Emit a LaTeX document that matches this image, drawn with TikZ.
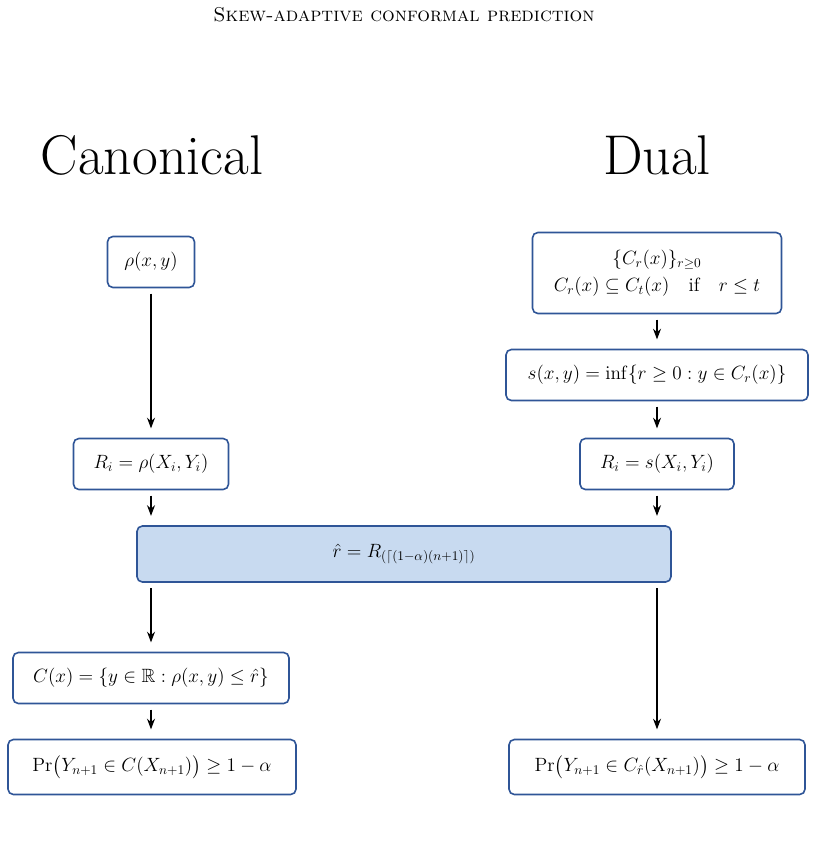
\documentclass[tikz,border=0pt]{standalone}
\usepackage{amsmath,amssymb}
\usetikzlibrary{arrows.meta}
\definecolor{bord}{RGB}{47,85,151}
\definecolor{fillb}{RGB}{200,218,240}
\begin{document}
\begin{tikzpicture}[x=0.75pt,y=-0.75pt,
 box/.style={draw=bord,line width=1.2pt,rounded corners=4pt,fill=white,align=center,inner sep=0pt,font=\fontsize{14.4}{17}\selectfont},
 arr/.style={-{Stealth[length=8pt,width=6pt]},line width=0.8pt,shorten >=7pt,shorten <=4pt},
 ttl/.style={font=\fontsize{42}{46}\selectfont}]
\useasboundingbox (0,0) rectangle (816,856);
\node[font=\fontsize{15}{18}\selectfont] (hdr) at (404,15) {\textsc{Skew-adaptive conformal prediction}};
\node[ttl] (tc) at (152,155) {Canonical};
\node[ttl] (td) at (657,155) {Dual};
\node[box,minimum width=87*0.75pt,minimum height=51*0.75pt] (rho) at (151,262) {$\rho(x,y)$};
\node[box,minimum width=249*0.75pt,minimum height=81*0.75pt] (cr) at (657,273) {$\{C_r(x)\}_{r\ge0}$\\[3pt]$C_r(x)\subseteq C_t(x)\quad\text{if}\quad r\le t$};
\node[box,minimum width=302*0.75pt,minimum height=51*0.75pt] (s) at (657,375) {$s(x,y)=\inf\{r\ge0: y\in C_r(x)\}$};
\node[box,minimum width=155*0.75pt,minimum height=51*0.75pt] (rl) at (151,464) {$R_i=\rho(X_i,Y_i)$};
\node[box,minimum width=154*0.75pt,minimum height=51*0.75pt] (rr) at (657,464) {$R_i=s(X_i,Y_i)$};
\node[box,fill=fillb,minimum width=534*0.75pt,minimum height=56*0.75pt] (rh) at (404,554) {$\hat r=R_{(\lceil(1-\alpha)(n+1)\rceil)}$};
\node[box,minimum width=276*0.75pt,minimum height=51*0.75pt] (cx) at (151,678) {$C(x)=\{y\in\mathbb{R}:\rho(x,y)\le\hat r\}$};
\node[box,minimum width=288*0.75pt,minimum height=55*0.75pt] (pl) at (152,767) {$\Pr\bigl(Y_{n+1}\in C(X_{n+1})\bigr)\ge1-\alpha$};
\node[box,minimum width=296*0.75pt,minimum height=55*0.75pt] (pr) at (657,767) {$\Pr\bigl(Y_{n+1}\in C_{\hat r}(X_{n+1})\bigr)\ge1-\alpha$};
\draw[arr] (rho) -- (rl);
\draw[arr] (cr) -- (s);
\draw[arr] (s) -- (rr);
\draw[arr] (rl) -- (rl|-rh.north);
\draw[arr] (rr) -- (rr|-rh.north);
\draw[arr] (rh.south-|cx) -- (cx);
\draw[arr] (cx) -- (cx|-pl.north);
\draw[arr] (rh.south-|pr) -- (pr);
\end{tikzpicture}
\end{document}
